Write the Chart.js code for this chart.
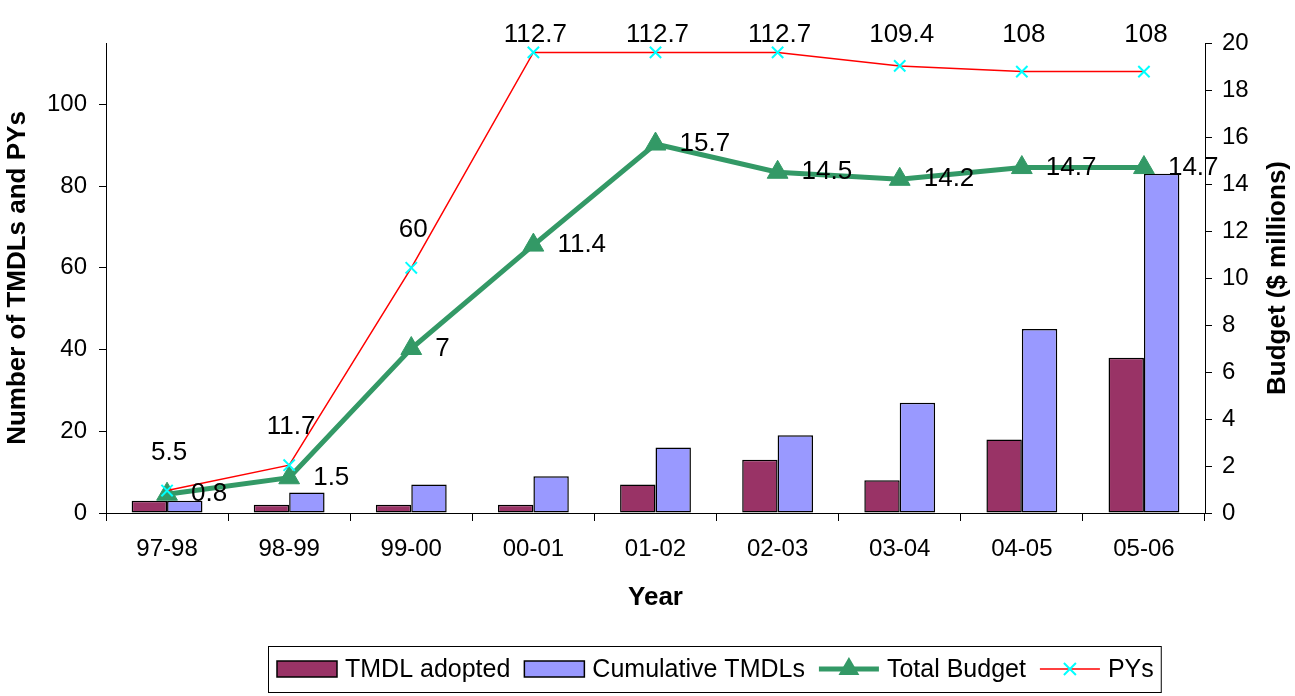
<!DOCTYPE html>
<html>
<head>
<meta charset="utf-8">
<script src="https://cdn.jsdelivr.net/npm/chart.js@4.4.0/dist/chart.umd.min.js"></script>
<style>
  html, body { margin: 0; padding: 0; background: #fff; }
</style>
</head>
<body>
<canvas id="chart" width="1295" height="696"></canvas>
<script>
const years = ["97-98", "98-99", "99-00", "00-01", "01-02", "02-03", "03-04", "04-05", "05-06"];
const tmdlAdopted = [3, 2, 2, 2, 7, 13, 8, 18, 38];
const cumulativeTmdls = [3, 5, 7, 9, 16, 19, 27, 45, 83];
const totalBudget = [0.8, 1.5, 7, 11.4, 15.7, 14.5, 14.2, 14.7, 14.7];
const pys = [5.5, 11.7, 60, 112.7, 112.7, 112.7, 109.4, 108, 108];
const leftTicks = [0, 20, 40, 60, 80, 100];
const rightTicks = [0, 2, 4, 6, 8, 10, 12, 14, 16, 18, 20];

const FONT = "'Liberation Sans', Arial, sans-serif";
Chart.defaults.font.family = FONT;
Chart.defaults.font.size = 24;
Chart.defaults.color = "#000";

// numbers next to the markers
const valueLabels = {
  id: "valueLabels",
  afterDatasetsDraw(chart) {
    const ctx = chart.ctx;
    ctx.save();
    ctx.font = "26px " + FONT;
    ctx.fillStyle = "#000";
    ctx.textBaseline = "middle";

    ctx.textAlign = "center";
    chart.getDatasetMeta(3).data.forEach((pt, i) => {
      ctx.fillText(String(pys[i]), pt.x + 2, Math.max(pt.y - 38, 35));
    });

    ctx.textAlign = "left";
    chart.getDatasetMeta(2).data.forEach((pt, i) => {
      ctx.fillText(String(totalBudget[i]), pt.x + 24, pt.y);
    });
    ctx.restore();
  }
};

function drawMarker(ctx, style, x, y, r, color, lw) {
  ctx.save();
  ctx.fillStyle = color;
  ctx.strokeStyle = color;
  ctx.lineWidth = lw;
  ctx.beginPath();
  if (style === "triangle") {
    ctx.moveTo(x, y - r);
    ctx.lineTo(x + r * 0.87, y + r / 2);
    ctx.lineTo(x - r * 0.87, y + r / 2);
    ctx.closePath();
    ctx.fill();
  } else {
    ctx.moveTo(x - r, y - r); ctx.lineTo(x + r, y + r);
    ctx.moveTo(x + r, y - r); ctx.lineTo(x - r, y + r);
    ctx.stroke();
  }
  ctx.restore();
}

// right axis title reads bottom-to-top like the left one
const rightTitle = {
  id: "rightTitle",
  afterDraw(chart) {
    const s = chart.scales.y1;
    const ctx = chart.ctx;
    ctx.save();
    ctx.font = "bold 26px " + FONT;
    ctx.fillStyle = "#000";
    ctx.textAlign = "center";
    ctx.textBaseline = "middle";
    ctx.translate(s.right - 17, (s.top + s.bottom) / 2);
    ctx.rotate(-Math.PI / 2);
    ctx.fillText("Budget ($ millions)", 0, 0);
    ctx.restore();
  }
};

// Excel-style boxed legend under the chart
const boxLegend = {
  id: "boxLegend",
  afterDraw(chart) {
    const ctx = chart.ctx;
    const ds = chart.data.datasets;
    const top = 646, h = 46, cy = top + h / 2, left = 268;
    const sw = 60;
    ctx.save();
    ctx.font = "25px " + FONT;
    ctx.textBaseline = "middle";
    ctx.textAlign = "left";
    let x = 277;
    ds.forEach((d) => {
      if (d.type === "bar") {
        ctx.fillStyle = d.backgroundColor;
        ctx.fillRect(x, cy - 8, sw, 16);
        ctx.strokeStyle = "#000";
        ctx.lineWidth = 1.5;
        ctx.strokeRect(x, cy - 8, sw, 16);
      } else {
        ctx.strokeStyle = d.borderColor;
        ctx.lineWidth = d.borderWidth;
        ctx.beginPath();
        ctx.moveTo(x, cy);
        ctx.lineTo(x + sw, cy);
        ctx.stroke();
        drawMarker(ctx, d.pointStyle, x + sw / 2, cy, d.pointStyle === "triangle" ? 12 : 6,
          d.pointBackgroundColor || d.pointBorderColor, 2);
      }
      x += sw + 8;
      ctx.fillStyle = "#000";
      ctx.fillText(d.label, x, cy + 1);
      x += ctx.measureText(d.label).width + 14;
    });
    ctx.strokeStyle = "#000";
    ctx.lineWidth = 1;
    ctx.strokeRect(left + 0.5, top + 0.5, x - left - 7, h);
    ctx.restore();
  }
};

new Chart(document.getElementById("chart"), {
  data: {
    labels: years,
    datasets: [
      {
        type: "bar",
        label: "TMDL adopted",
        data: tmdlAdopted,
        backgroundColor: "#993366",
        borderColor: "#000",
        borderWidth: 1.5,
        borderSkipped: false,
        categoryPercentage: 0.58,
        barPercentage: 1,
        yAxisID: "y",
        order: 2,
      },
      {
        type: "bar",
        label: "Cumulative TMDLs",
        data: cumulativeTmdls,
        backgroundColor: "#9999FF",
        borderColor: "#000",
        borderWidth: 1.5,
        borderSkipped: false,
        categoryPercentage: 0.58,
        barPercentage: 1,
        yAxisID: "y",
        order: 3,
      },
      {
        type: "line",
        label: "Total Budget",
        data: totalBudget,
        borderColor: "#339966",
        borderWidth: 5,
        pointStyle: "triangle",
        pointRadius: 12,
        pointBackgroundColor: "#339966",
        pointBorderColor: "#339966",
        pointBorderWidth: 1,
        tension: 0,
        yAxisID: "y1",
        order: 1,
      },
      {
        type: "line",
        label: "PYs",
        data: pys,
        borderColor: "#FF0000",
        borderWidth: 1.5,
        pointStyle: "crossRot",
        pointRadius: 8,
        pointBorderColor: "#00FFFF",
        pointBorderWidth: 2,
        tension: 0,
        yAxisID: "y",
        order: 0,
      },
    ],
  },
  options: {
    responsive: false,
    animation: false,
    devicePixelRatio: 1,
    layout: { padding: { top: 43, bottom: 83, left: 0, right: 0 } },
    plugins: {
      legend: { display: false },
      tooltip: { enabled: false },
    },
    scales: {
      x: {
        offset: true,
        grid: { offset: true, drawOnChartArea: false, color: "#000", tickLength: 8 },
        border: { color: "#000" },
        ticks: { padding: 14, font: { size: 24 } },
        title: { display: true, text: "Year", font: { size: 26, weight: "bold" }, padding: { top: 0, bottom: 0 } },
        afterFit: (s) => { s.height = 100; },
      },
      y: {
        position: "left",
        min: 0,
        max: 115,
        afterBuildTicks: (s) => { s.ticks = leftTicks.map((v) => ({ value: v })); },
        grid: { drawOnChartArea: false, color: "#000", tickLength: 7 },
        border: { color: "#000" },
        ticks: { padding: 12, font: { size: 24 } },
        title: { display: true, text: "Number of TMDLs and PYs", font: { size: 26, weight: "bold" }, padding: { top: 2, bottom: 0 } },
        afterFit: (s) => { s.width = 106; },
      },
      y1: {
        position: "right",
        min: 0,
        max: 20,
        afterBuildTicks: (s) => { s.ticks = rightTicks.map((v) => ({ value: v })); },
        grid: { drawOnChartArea: false, color: "#000", tickLength: 7 },
        border: { color: "#000" },
        ticks: { padding: 10, font: { size: 24 } },
        afterFit: (s) => { s.width = 90; },
      },
    },
  },
  plugins: [valueLabels, rightTitle, boxLegend],
});
</script>
</body>
</html>
